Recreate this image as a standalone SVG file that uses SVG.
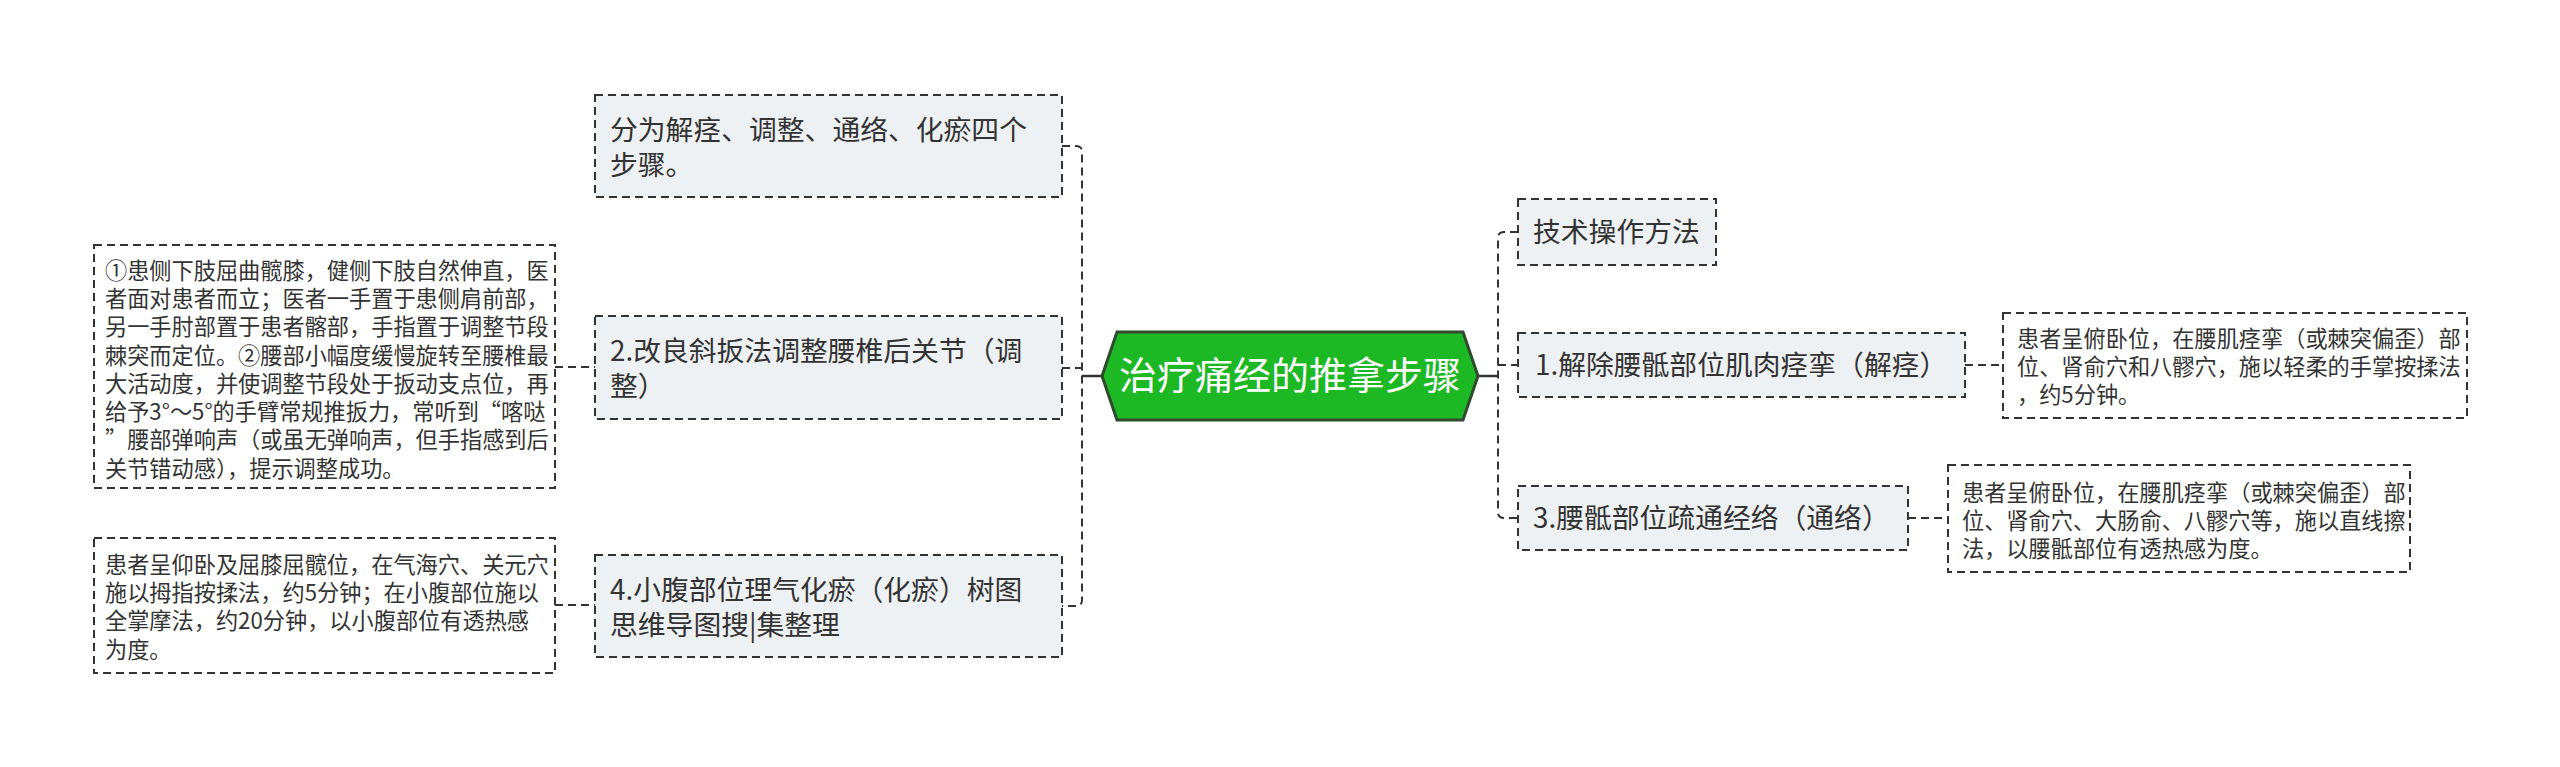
<svg xmlns="http://www.w3.org/2000/svg" width="2560" height="767" viewBox="0 0 2560 767">
<style>
.box{fill:#eef1f4;stroke:#333;stroke-width:2;stroke-dasharray:8 5}
.leaf{fill:#fff;stroke:#333;stroke-width:2;stroke-dasharray:8 5}
.t{font-family:"Noto Sans CJK SC","Noto Sans",sans-serif;fill:#333}
.m{font-size:27.8px}
.l{font-size:22.2px}
.c{fill:none;stroke:#333;stroke-width:2;stroke-dasharray:8 5}
.s{fill:none;stroke:#333;stroke-width:2.5}
</style>
<rect width="2560" height="767" fill="#fff"/>
<g id="connectors">
<path class="c" d="M1062,146 H1076 Q1082,146 1082,152 V600 Q1082,606 1076,606 H1062"/>
<path class="c" d="M1062,368 H1082"/>
<path class="s" d="M1082,376 H1102"/>
<path class="c" d="M555,367 H595"/>
<path class="c" d="M555,605 H595"/>
<path class="s" d="M1478,376 H1498"/>
<path class="c" d="M1518,232 H1504 Q1498,232 1498,238 V512 Q1498,518 1504,518 H1518"/>
<path class="c" d="M1498,365 H1518"/>
<path class="c" d="M1965,365 H2003"/>
<path class="c" d="M1908,518 H1948"/>
</g>
<g id="root">
<polygon points="1102,376 1117,332 1463,332 1478,376 1463,420 1117,420" fill="#1db924" stroke="#2f4a30" stroke-width="3"/>
<text class="t" x="1290" y="389" font-size="38" text-anchor="middle" style="fill:#fff">治疗痛经的推拿步骤</text>
</g>
<g id="n-steps">
<rect class="box" x="595" y="95" width="467" height="102"/>
<text class="t m" x="610" y="140">分为解痉、调整、通络、化瘀四个</text>
<text class="t m" x="610" y="175">步骤。</text>
</g>
<g id="n-adjust">
<rect class="box" x="595" y="316" width="467" height="103"/>
<text class="t m" x="610" y="361">2.改良斜扳法调整腰椎后关节（调</text>
<text class="t m" x="610" y="396">整）</text>
</g>
<g id="n-adjust-detail">
<rect class="leaf" x="94" y="245" width="461" height="243"/>
<text class="t l" x="105" y="279">①患侧下肢屈曲髋膝，健侧下肢自然伸直，医</text>
<text class="t l" x="105" y="307">者面对患者而立；医者一手置于患侧肩前部，</text>
<text class="t l" x="105" y="335">另一手肘部置于患者髂部，手指置于调整节段</text>
<text class="t l" x="105" y="364">棘突而定位。②腰部小幅度缓慢旋转至腰椎最</text>
<text class="t l" x="105" y="392">大活动度，并使调整节段处于扳动支点位，再</text>
<text class="t l" x="105" y="420">给予3°～5°的手臂常规推扳力，常听到“喀哒</text>
<text class="t l" x="105" y="448">”腰部弹响声（或虽无弹响声，但手指感到后</text>
<text class="t l" x="105" y="477">关节错动感），提示调整成功。</text>
</g>
<g id="n-stasis">
<rect class="box" x="595" y="555" width="467" height="102"/>
<text class="t m" x="610" y="600">4.小腹部位理气化瘀（化瘀）树图</text>
<text class="t m" x="610" y="635">思维导图搜|集整理</text>
</g>
<g id="n-stasis-detail">
<rect class="leaf" x="94" y="538" width="461" height="135"/>
<text class="t l" x="105" y="573">患者呈仰卧及屈膝屈髋位，在气海穴、关元穴</text>
<text class="t l" x="105" y="601">施以拇指按揉法，约5分钟；在小腹部位施以</text>
<text class="t l" x="105" y="629">全掌摩法，约20分钟，以小腹部位有透热感</text>
<text class="t l" x="105" y="658">为度。</text>
</g>
<g id="n-method">
<rect class="box" x="1518" y="199" width="198" height="66"/>
<text class="t m" x="1533" y="242">技术操作方法</text>
</g>
<g id="n-relax">
<rect class="box" x="1518" y="333" width="447" height="64"/>
<text class="t m" x="1535" y="375">1.解除腰骶部位肌肉痉挛（解痉）</text>
</g>
<g id="n-relax-detail">
<rect class="leaf" x="2003" y="313" width="464" height="105"/>
<text class="t l" x="2017" y="347">患者呈俯卧位，在腰肌痉挛（或棘突偏歪）部</text>
<text class="t l" x="2017" y="375">位、肾俞穴和八髎穴，施以轻柔的手掌按揉法</text>
<text class="t l" x="2017" y="403">，约5分钟。</text>
</g>
<g id="n-meridian">
<rect class="box" x="1518" y="486" width="390" height="64"/>
<text class="t m" x="1533" y="528">3.腰骶部位疏通经络（通络）</text>
</g>
<g id="n-meridian-detail">
<rect class="leaf" x="1948" y="465" width="462" height="107"/>
<text class="t l" x="1962" y="501">患者呈俯卧位，在腰肌痉挛（或棘突偏歪）部</text>
<text class="t l" x="1962" y="529">位、肾俞穴、大肠俞、八髎穴等，施以直线擦</text>
<text class="t l" x="1962" y="557">法，以腰骶部位有透热感为度。</text>
</g>
</svg>
